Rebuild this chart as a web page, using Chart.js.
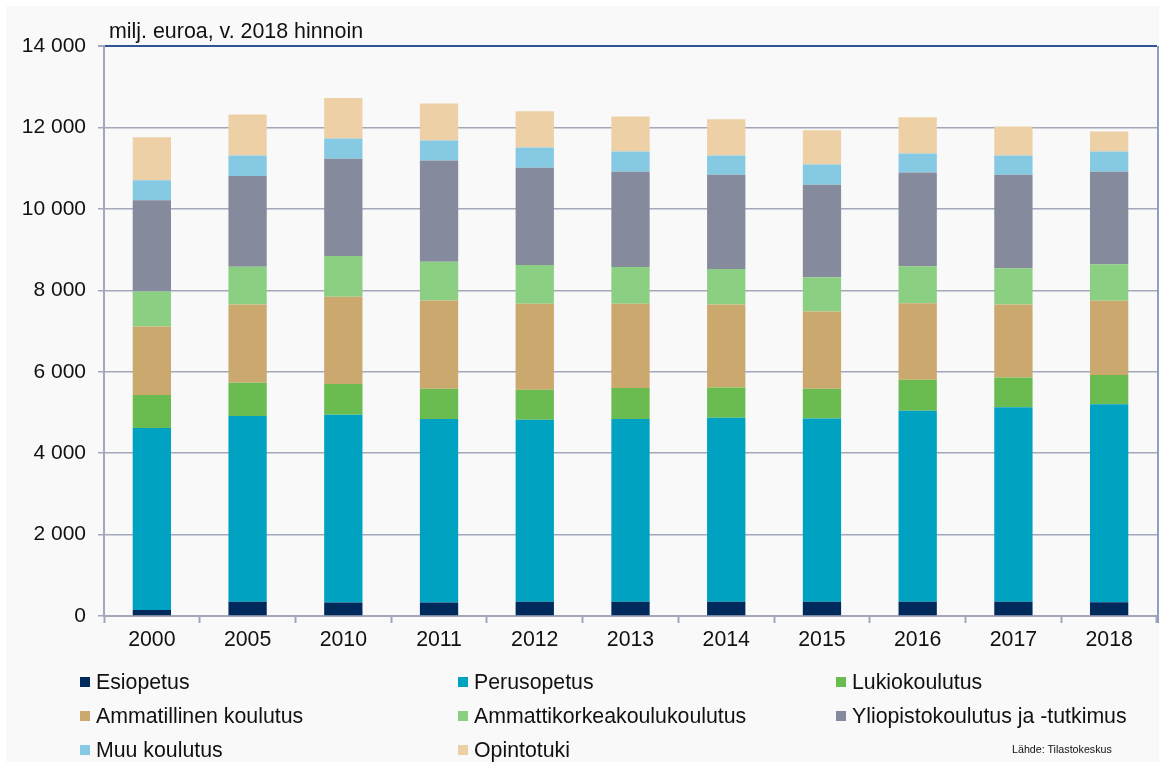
<!DOCTYPE html>
<html lang="fi">
<head>
<meta charset="utf-8">
<title>Koulutuksen rahoitus</title>
<script src="https://cdn.jsdelivr.net/npm/chart.js@4/dist/chart.umd.min.js"></script>
<style>
    html, body { margin: 0; padding: 0; background: #fff; }
    #wrap { position: relative; width: 1159px; height: 762px; overflow: hidden; font-family: 'Liberation Sans', Arial, sans-serif; color: #111; }
    #bg { position: absolute; left: 6px; top: 6px; right: 0; bottom: 0; background: #f9f9f9; }
    #chart { position: absolute; left: 0; top: 0; }
    #unit { position: absolute; left: 109px; top: 19px; font-size: 21.4px; line-height: 24px; }
    .leg { position: absolute; font-size: 21.3px; line-height: 24px; white-space: nowrap; }
    .leg i { position: absolute; left: -16px; top: 7px; width: 10px; height: 10px; }
    #source { position: absolute; left: 1012px; top: 743px; font-size: 10.7px; line-height: 13px; }
</style>
</head>
<body>
<div id="wrap">
    <div id="bg"></div>
    <canvas id="chart" width="1159" height="762"></canvas>
    <div id="unit">milj. euroa, v. 2018 hinnoin</div>
    <div id="legend"></div>
    <div id="source">Lähde: Tilastokeskus</div>
</div>
<script>
// Vuodet
const years = ['2000', '2005', '2010', '2011', '2012', '2013', '2014', '2015', '2016', '2017', '2018'];

// milj. euroa per koulutusaste (luettu kuvasta)
const esiopetus      = [150, 350, 330, 330, 350, 350, 350, 350, 350, 350, 340];
const perusopetus    = [4470, 4560, 4610, 4510, 4470, 4490, 4520, 4500, 4690, 4780, 4860];
const lukiokoulutus  = [810, 820, 760, 740, 740, 760, 740, 730, 760, 730, 720];
const ammatillinen   = [1680, 1920, 2140, 2170, 2110, 2070, 2040, 1900, 1880, 1790, 1820];
const ammattikorkea  = [860, 930, 1000, 950, 950, 900, 870, 840, 910, 890, 900];
const yliopisto      = [2240, 2230, 2390, 2490, 2390, 2340, 2320, 2270, 2300, 2300, 2270];
const muuKoulutus    = [490, 500, 500, 490, 500, 500, 470, 500, 470, 470, 500];
const opintotuki     = [1060, 1010, 990, 910, 890, 860, 890, 840, 890, 710, 490];

const yTicks = [0, 2000, 4000, 6000, 8000, 10000, 12000, 14000];

const series = [
    { label: 'Esiopetus', data: esiopetus, color: '#002a5c' },
    { label: 'Perusopetus', data: perusopetus, color: '#00a2c2' },
    { label: 'Lukiokoulutus', data: lukiokoulutus, color: '#6abb50' },
    { label: 'Ammatillinen koulutus', data: ammatillinen, color: '#cba86e' },
    { label: 'Ammattikorkeakoulukoulutus', data: ammattikorkea, color: '#8bcf82' },
    { label: 'Yliopistokoulutus ja -tutkimus', data: yliopisto, color: '#858a9c' },
    { label: 'Muu koulutus', data: muuKoulutus, color: '#86c9e3' },
    { label: 'Opintotuki', data: opintotuki, color: '#edd0a6' }
];

const FONT = "'Liberation Sans', Arial, sans-serif";

function fmt(v) {
    return String(v).replace(/\B(?=(\d{3})+(?!\d))/g, ' ');
}

// frame on the right side of the plot
const rightFrame = {
    id: 'rightFrame',
    afterDraw(chart) {
        const a = chart.chartArea;
        const c = chart.ctx;
        c.save();
        c.strokeStyle = '#8f9fbd';
        c.lineWidth = 2;
        c.beginPath();
        c.moveTo(a.right + 1, a.top);
        c.lineTo(a.right + 1, a.bottom + 7);
        c.stroke();
        c.restore();
    }
};

function buildLegend() {
    const box = document.getElementById('legend');
    const colX = [96, 474, 852];
    const rowY = [670, 704, 738];
    series.forEach((s, i) => {
        const d = document.createElement('div');
        d.className = 'leg';
        d.style.left = colX[i % 3] + 'px';
        d.style.top = rowY[Math.floor(i / 3)] + 'px';
        d.innerHTML = '<i style="background:' + s.color + '"></i>' + s.label;
        box.appendChild(d);
    });
}

function initChart() {
    const ctx = document.getElementById('chart');
    new Chart(ctx, {
        type: 'bar',
        data: {
            labels: years,
            datasets: series.map(s => ({
                label: s.label,
                data: s.data,
                backgroundColor: s.color,
                borderWidth: 0,
                barPercentage: 0.4,
                categoryPercentage: 1.0
            }))
        },
        options: {
            responsive: false,
            animation: false,
            layout: { padding: { top: 46, right: 2, bottom: 96, left: 0 } },
            plugins: {
                legend: { display: false },
                tooltip: { enabled: false }
            },
            scales: {
                x: {
                    stacked: true,
                    afterFit(scale) { scale.height = 50; },
                    grid: {
                        offset: true,
                        drawOnChartArea: false,
                        drawTicks: true,
                        tickLength: 7,
                        tickColor: '#a3a7bb',
                        tickWidth: 2
                    },
                    border: { color: '#a3a7bb', width: 2 },
                    ticks: {
                        color: '#111',
                        padding: 4,
                        maxRotation: 0,
                        font: { family: FONT, size: 21.3 }
                    }
                },
                y: {
                    stacked: true,
                    min: 0,
                    max: 14000,
                    afterFit(scale) { scale.width = 104; },
                    afterBuildTicks(scale) {
                        scale.ticks = yTicks.map(v => ({ value: v }));
                    },
                    grid: {
                        color: c => (c.tick && c.tick.value === 14000) ? '#2f5597' : '#a3a7bb',
                        lineWidth: c => (c.tick && c.tick.value === 14000) ? 2 : 1.5,
                        tickLength: 6,
                        tickColor: '#a3a7bb'
                    },
                    border: { color: '#a3a7bb', width: 2 },
                    ticks: {
                        color: '#111',
                        padding: 12,
                        font: { family: FONT, size: 21 },
                        callback: v => fmt(v)
                    }
                }
            }
        },
        plugins: [rightFrame]
    });
}

buildLegend();
initChart();
</script>
</body>
</html>
